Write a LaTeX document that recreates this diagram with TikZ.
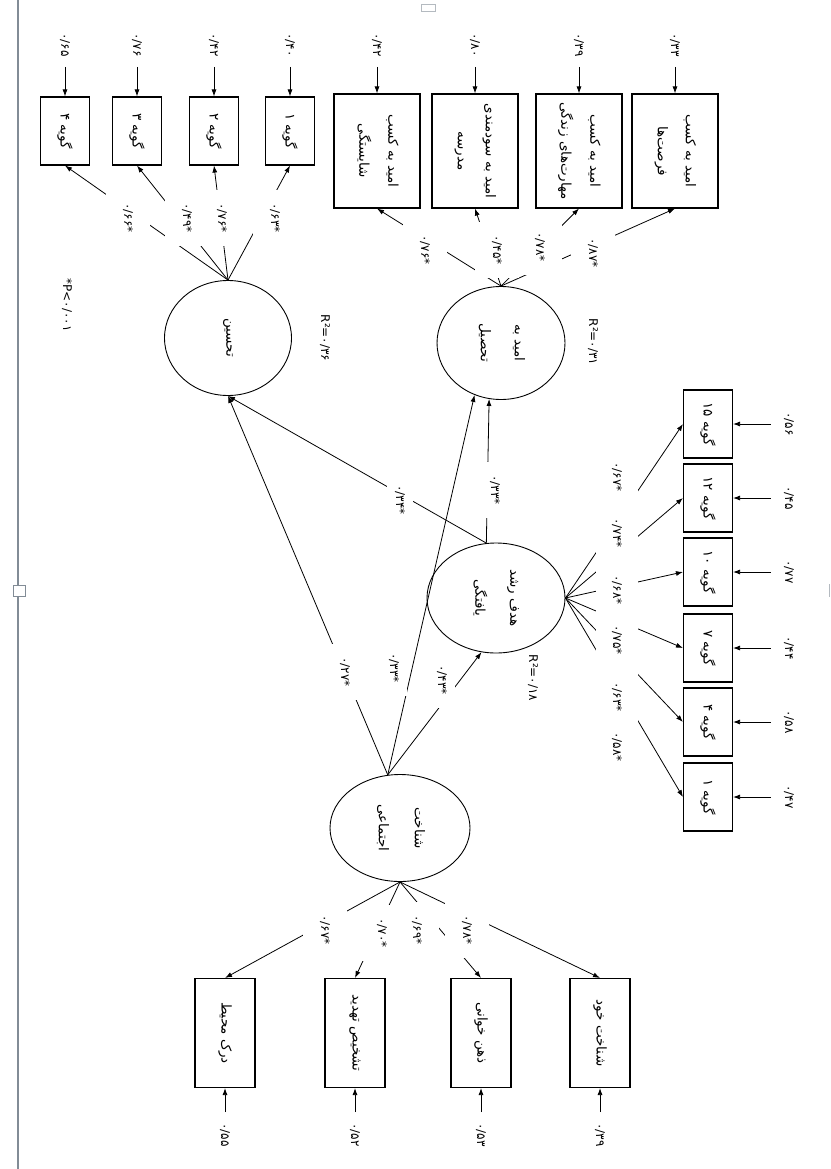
\documentclass[tikz,border=0pt]{standalone}
\usepackage{fontspec}
\usepackage{graphicx}
\usetikzlibrary{arrows.meta,shapes.geometric}
\newfontfamily\fa[Script=Arabic]{DejaVu Sans}
\newfontfamily\lat{DejaVu Sans}
\TeXXeTstate=1
\newcommand{\fat}[1]{{\fa\beginR #1\endR}}
\newcommand{\vt}[1]{\rotatebox{-90}{#1}}
\newcommand{\sig}{{\lat *}}
\definecolor{framegray}{RGB}{130,140,150}

\begin{document}
\begin{tikzpicture}[x=1pt, y=-1pt,
  font=\fa\fontsize{13.5}{16}\selectfont,
  itembox/.style={draw, line width=1.1pt, inner sep=1pt,
                  minimum width=49pt, minimum height=68pt},
  hopebox/.style={draw, line width=1.1pt, inner sep=1pt,
                  minimum width=86pt, minimum height=114pt},
  cogbox/.style={draw, line width=1.1pt, inner sep=1pt,
                 minimum width=60pt, minimum height=109pt},
  latent/.style={draw, ellipse, line width=0.9pt, inner sep=0pt},
  errlbl/.style={rotate=-90, inner sep=1pt, font=\fa\fontsize{12}{14}\selectfont},
  loadlbl/.style={errlbl, fill=white, minimum width=56pt, minimum height=44pt},
  arr/.style={line width=0.8pt, -{Latex[length=7pt, width=5pt]}}]
  \useasboundingbox (0,0) rectangle (830,1169);
  % edge of the page
  \draw[framegray, line width=1.5pt] (18,0) -- (18,1169);
  \draw[framegray, line width=0.8pt, fill=white] (13,585) rectangle (25,596);
  \draw[framegray!60, line width=0.8pt] (421,4) rectangle (435,11);
  \draw[framegray!60, line width=1pt] (829,584) -- (829,597);

  % latent variables
  \node[latent, minimum width=127pt, minimum height=115pt] (tah) at (228,338)
    {\vt{\fat{تحسین}}};
  \node[latent, minimum width=128pt, minimum height=113pt] (omid) at (501,343)
    {\vt{\begin{tabular}{@{}c@{}}\fat{امید به}\\[18pt]\fat{تحصیل}\end{tabular}}};
  \node[latent, minimum width=138pt, minimum height=110pt] (hadaf) at (496,598)
    {\vt{\begin{tabular}{@{}c@{}}\fat{هدف رشد}\\[18pt]\fat{یافتگی}\end{tabular}}};
  \node[latent, minimum width=140pt, minimum height=107pt] (shen) at (400,828)
    {\vt{\begin{tabular}{@{}c@{}}\fat{شناخت}\\[20pt]\fat{اجتماعی}\end{tabular}}};
  \node[errlbl] (tahR) at (325,338) {R²=۰/۳۶};
  \node[errlbl] (omidR) at (593,342) {R²=۰/۳۱};
  \node[errlbl] (hadafR) at (533,678) {R²=۰/۱۸};
  \node[errlbl] (pnote) at (67,305) {\sig P<۰/۰۰۱};

  % items of tahsin
  \foreach \i/\x/\d/\e in {4/65/۴/{۰/۶۵}, 3/137/۳/{۰/۷۶},
                           2/214/۲/{۰/۴۲}, 1/290/۱/{۰/۴۰}}{
    \node[itembox] (tg\i) at (\x,131) {\vt{\fat{گویه \d}}};
    \node[errlbl] (tge\i) at (\x,45) {\e};
    \draw[arr, shorten <=9pt] (tge\i) -- (tg\i);
    \draw[arr] (tah.north) -- (tg\i.south);
  }
  % items of omid
  \foreach \i/\x/\e/\ta/\tb in {
      1/377/{۰/۴۲}/{امید به کسب}/{شایستگی},
      2/475/{۰/۸۰}/{امید به سودمندی}/{مدرسه},
      3/579/{۰/۳۹}/{امید به کسب}/{مهارت‌های زندگی},
      4/675/{۰/۳۳}/{امید به کسب}/{فرصت‌ها}}{
    \node[hopebox] (ob\i) at (\x,151)
      {\vt{\begin{tabular}{@{}c@{}}\fat{\ta}\\[12pt]\fat{\tb}\end{tabular}}};
    \node[errlbl] (obe\i) at (\x,45) {\e};
    \draw[arr, shorten <=9pt] (obe\i) -- (ob\i);
    \draw[arr] (omid.north) -- (ob\i.south);
  }
  % items of hadaf
  \foreach \i/\y/\d/\e in {15/424/۱۵/{۰/۵۶}, 12/498/۱۲/{۰/۴۵},
                           10/572/۱۰/{۰/۷۷}, 7/648/۷/{۰/۴۴},
                           4/722/۴/{۰/۵۸}, 1/797/۱/{۰/۴۷}}{
    \node[itembox] (hb\i) at (708,\y) {\vt{\fat{گویه \d}}};
    \node[errlbl] (hbe\i) at (789,\y) {\e};
    \draw[arr, shorten <=12pt] (hbe\i) -- (hb\i);
    \draw[arr] (hadaf.east) -- (hb\i.west);
  }
  % indicators of shenakht
  \foreach \i/\x/\t/\e in {1/225/{درک محیط}/{۰/۵۵}, 2/355/{تشخیص تهدید}/{۰/۵۲},
                           3/481/{ذهن خوانی}/{۰/۵۳}, 4/600/{شناخت خود}/{۰/۳۹}}{
    \node[cogbox] (sb\i) at (\x,1033) {\vt{\fat{\t}}};
    \node[errlbl] (sbe\i) at (\x,1135) {\e};
    \draw[arr, shorten <=10pt] (sbe\i) -- (sb\i);
    \draw[arr] (shen.south) -- (sb\i.north);
  }

  % structural paths
  \draw[arr] (shen.103) -- (tah.south);
  \draw[arr] (shen.103) -- (omid.243);
  \draw[arr] (shen.103) -- (hadaf.255);
  \draw[arr] (hadaf.100) -- (tah.south);
  \draw[arr] (hadaf.100) -- (omid.258);

  % loadings and path weights
  \foreach \x/\y/\v [count=\k] in {128/218/{۰/۶۶}, 187/218/{۰/۴۹},
      222/218/{۰/۷۶}, 275/218/{۰/۶۳},
      425/250/{۰/۷۶}, 497/250/{۰/۴۵}, 540/247/{۰/۷۸}, 593/253/{۰/۸۷},
      325/930/{۰/۶۷}, 382/933/{۰/۷۰}, 417/930/{۰/۶۹}, 467/930/{۰/۷۸}}
    \node[loadlbl] (w\k) at (\x,\y) {\v\sig};
  \foreach \x/\y/\v [count=\k] in {345/672/{۰/۲۷}, 394/668/{۰/۳۳},
      442/680/{۰/۴۳}, 400/500/{۰/۳۴}, 495/490/{۰/۳۳}}
    \node[loadlbl, minimum height=26pt] (p\k) at (\x,\y) {\v\sig};
  \foreach \y/\v [count=\k] in {477/{۰/۶۷}, 533/{۰/۷۴}, 590/{۰/۶۸},
      640/{۰/۷۵}, 697/{۰/۶۳}, 747/{۰/۵۸}}
    \node[loadlbl, minimum width=60pt, minimum height=42pt] (wr\k) at (617,\y)
      {\v\sig};
\end{tikzpicture}
\end{document}
